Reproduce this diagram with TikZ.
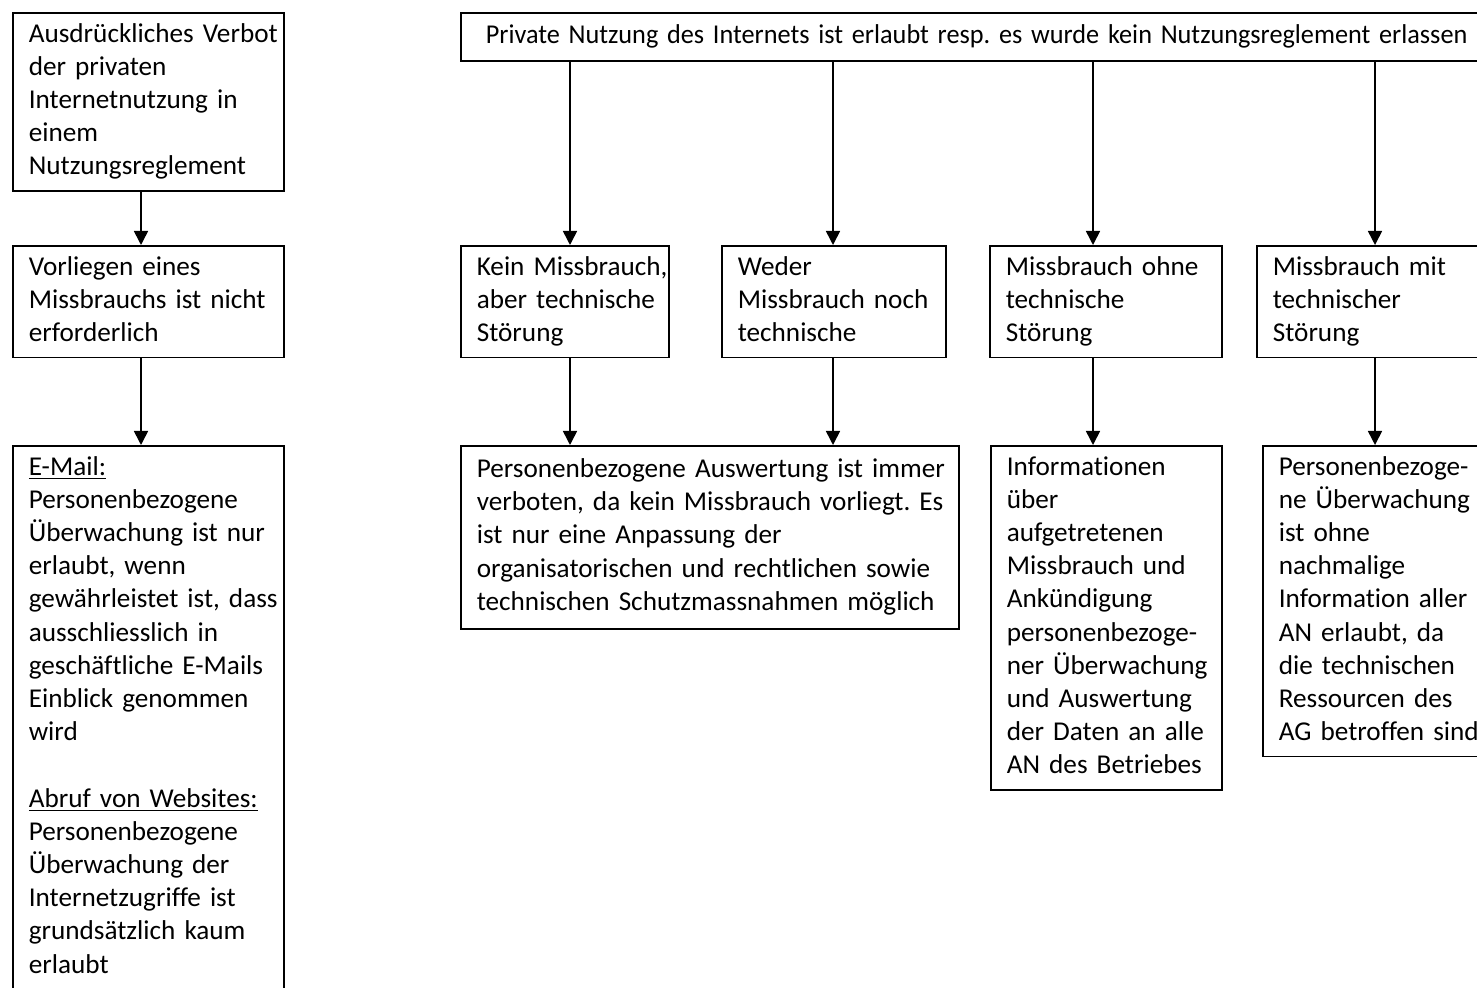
\documentclass[tikz,border=0pt]{standalone}
\usepackage{fontspec}
\setmainfont{Carlito}[Ligatures=NoCommon]
\frenchspacing
\usetikzlibrary{arrows.meta}

\tikzset{
  kasten/.style={draw, line width=0.8pt, anchor=north west, align=left,
    inner xsep=8pt, inner ysep=3pt, font=\fontsize{13.6}{16.6}\selectfont,
    execute at begin node={\rightskip=0pt plus 1fil minus 16pt\linepenalty=5000\hyphenpenalty=10000\strut},
    execute at end node=\strut},
  pfeil/.style={line width=0.8pt, -{Triangle[length=7pt,width=7pt]}}
}

\begin{document}
\begin{tikzpicture}[x=0.5pt,y=-0.5pt]
\useasboundingbox (0,0) rectangle (1477,988);

% linke Spalte
\node[kasten, text width=119.5pt] (A) at (12,12) {Ausdrückliches Verbot\\der privaten\\Internetnutzung in\\einem\\Nutzungsreglement};
\node[kasten, text width=119.5pt] (B) at (12,245) {Vorliegen eines\\Missbrauchs ist nicht\\erforderlich};
\node[kasten, text width=119.5pt] (C) at (12,445) {\underline{E-Mail:}\\Personenbezogene\\Überwachung ist nur\\erlaubt, wenn\\gewährleistet ist, dass\\ausschliesslich in\\geschäftliche E-Mails\\Einblick genommen\\wird\\[16.6pt]\underline{Abruf von Websites:}\\Personenbezogene\\Überwachung der\\Internetzugriffe ist\\grundsätzlich kaum\\erlaubt};

% rechte Seite
\node[draw, line width=0.8pt, anchor=north west, minimum height=24pt, text width=504pt,
  inner xsep=12.5pt, font=\fontsize{13.6}{16.6}\selectfont] (P) at (460,12)
  {\scalebox{0.965}[1]{Private Nutzung des Internets ist erlaubt resp. es wurde kein Nutzungsreglement erlassen}};

\node[kasten, text width=88pt] (K1) at (460,245) {Kein Missbrauch,\\aber technische\\Störung};
\node[kasten, text width=96pt] (K2) at (721,245) {Weder\\Missbrauch noch\\technische};
\node[kasten, text width=100pt] (K3) at (989,245) {Missbrauch ohne\\technische\\Störung};
\node[kasten, text width=104pt] (K4) at (1256,245) {Missbrauch mit\\technischer\\Störung};

\node[kasten, text width=233pt, minimum height=91.5pt] (L1) at (460,445) {Personenbezogene Auswertung ist immer\\verboten, da kein Missbrauch vorliegt. Es\\ist nur eine Anpassung der\\organisatorischen und rechtlichen sowie\\technischen Schutzmassnahmen möglich};
\node[kasten, text width=99.5pt] (L2) at (990,445) {Informationen\\über\\aufgetretenen\\Missbrauch und\\Ankündigung\\personenbezoge-\\ner Überwachung\\und Auswertung\\der Daten an alle\\AN des Betriebes};
\node[kasten, text width=104pt] (L3) at (1262,445) {Personenbezoge-\\ne Überwachung\\ist ohne\\nachmalige\\Information aller\\AN erlaubt, da\\die technischen\\Ressourcen des\\AG betroffen sind};

% Pfeile
\coordinate (s0) at (141,0);
\coordinate (s1) at (570,0);
\coordinate (s2) at (833,0);
\coordinate (s3) at (1093,0);
\coordinate (s4) at (1375,0);

\draw[pfeil] (s0 |- A.south) -- (s0 |- B.north);
\draw[pfeil] (s0 |- B.south) -- (s0 |- C.north);

\draw[pfeil] (s1 |- P.south) -- (s1 |- K1.north);
\draw[pfeil] (s2 |- P.south) -- (s2 |- K2.north);
\draw[pfeil] (s3 |- P.south) -- (s3 |- K3.north);
\draw[pfeil] (s4 |- P.south) -- (s4 |- K4.north);

\draw[pfeil] (s1 |- K1.south) -- (s1 |- L1.north);
\draw[pfeil] (s2 |- K2.south) -- (s2 |- L1.north);
\draw[pfeil] (s3 |- K3.south) -- (s3 |- L2.north);
\draw[pfeil] (s4 |- K4.south) -- (s4 |- L3.north);
\end{tikzpicture}
\end{document}
